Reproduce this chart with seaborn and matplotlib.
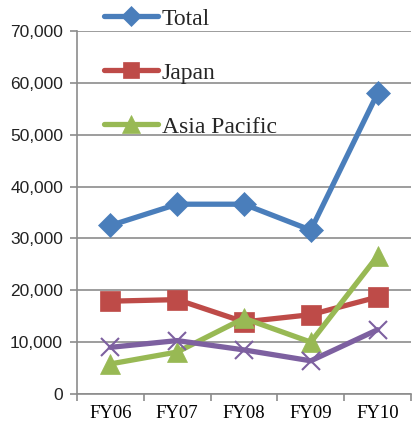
import numpy as np
import pandas as pd
import matplotlib
matplotlib.use('Agg')
import matplotlib.pyplot as plt
import seaborn as sns
from matplotlib.ticker import FuncFormatter, FixedLocator

# Data
years = ['FY06', 'FY07', 'FY08', 'FY09', 'FY10']
total = [32500, 36600, 36600, 31600, 58000]
japan = [17900, 18200, 13900, 15300, 18700]
asia_pacific = [5800, 8100, 14600, 10000, 26600]
other = [9000, 10300, 8500, 6400, 12400]

series = [
    ('Total', total, '#4A7EBB', 'D', 12),
    ('Japan', japan, '#BE4B48', 's', 14),
    ('Asia Pacific', asia_pacific, '#98B954', '^', 15),
    ('Other', other, '#7D60A0', 'x', 13),
]

sns.set_style('white')
fig = plt.figure(figsize=(4.12, 4.24), dpi=100)
ax = fig.add_axes([77 / 412, 1 - 394 / 424, 334 / 412, 363 / 424])

handles = []
for name, vals, color, marker, ms in series:
    df = pd.DataFrame({'year': years, 'value': vals})
    sns.lineplot(data=df, x='year', y='value', ax=ax, color=color, linewidth=3.8,
                 marker=marker, markersize=ms, markeredgecolor=color,
                 markeredgewidth=1.5 if marker == 'x' else 0.5, label=None)
    handles.append(ax.lines[-1])

ax.set_xlim(-0.5, 4.5)
ax.set_ylim(0, 70000)
ax.set_yticks(np.arange(0, 70001, 10000))
ax.yaxis.set_major_formatter(FuncFormatter(lambda v, p: f'{int(v):,}'))
ax.grid(axis='y', color='#8C8C8C', linewidth=1.2)
ax.set_axisbelow(True)

for s in ['top', 'right']:
    ax.spines[s].set_visible(False)
for s in ['left', 'bottom']:
    ax.spines[s].set_color('#8C8C8C')
    ax.spines[s].set_linewidth(1.2)

ax.set_xlabel('')
ax.set_ylabel('')
ax.tick_params(axis='y', which='major', length=5, width=1.2, color='#8C8C8C',
               direction='out', pad=5, left=True)
ax.tick_params(axis='x', which='major', length=0, pad=8)
ax.xaxis.set_minor_locator(FixedLocator(np.arange(-0.5, 4.6, 1)))
ax.tick_params(axis='x', which='minor', length=5, width=1.2, color='#8C8C8C',
               direction='out', bottom=True)

for lbl in ax.get_yticklabels():
    lbl.set_fontfamily('Liberation Sans')
    lbl.set_fontsize(12.5)
    lbl.set_color('#222222')
for lbl in ax.get_xticklabels():
    lbl.set_fontfamily('Liberation Serif')
    lbl.set_fontsize(13.5)
    lbl.set_color('black')

leg = ax.legend(handles[:3], [s[0] for s in series[:3]],
                loc='upper left', bbox_to_anchor=(104 / 412, 1 - 8 / 424),
                bbox_transform=fig.transFigure, frameon=False,
                prop={'family': 'Liberation Serif', 'size': 17},
                handlelength=2.3, handletextpad=0.15, labelspacing=1.38,
                borderpad=0, borderaxespad=0, markerscale=0.85)
leg.set_clip_on(False)

fig.savefig('out.png', dpi=100)
